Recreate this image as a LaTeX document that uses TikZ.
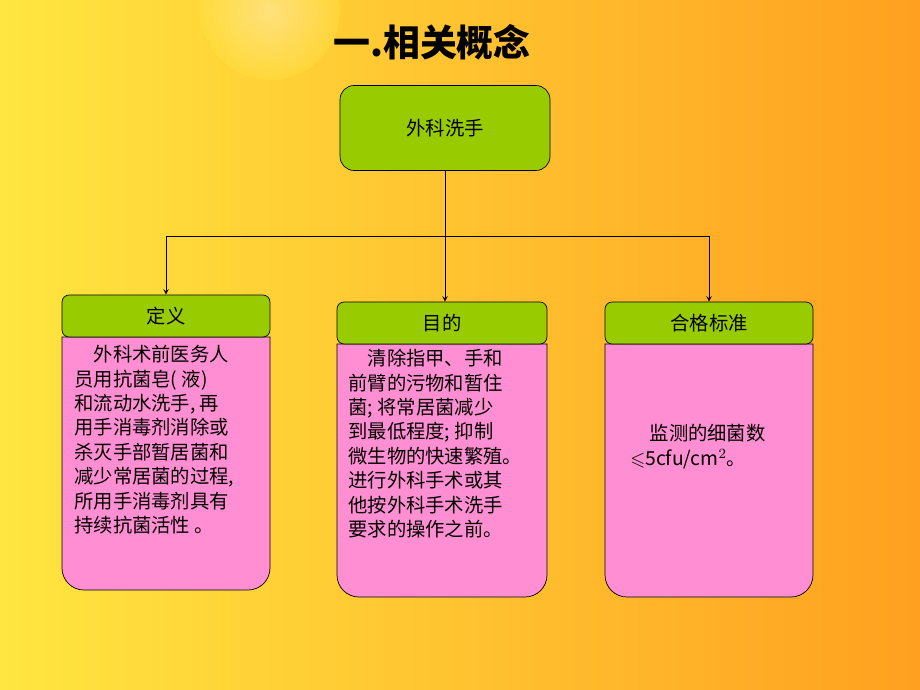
\documentclass[tikz,border=0pt]{standalone}
\usepackage{amssymb}
\usepackage{fontspec}
\newfontfamily\cjk{Noto Sans CJK SC}
\usetikzlibrary{positioning}
\definecolor{boxgreen}{HTML}{99CC00}
\definecolor{boxpink}{HTML}{FF8FD2}
\definecolor{bgyellow}{HTML}{FFE640}
\definecolor{bgorange}{HTML}{FFA020}
\tikzset{
  head/.style={draw=black,fill=boxgreen,rounded corners=4pt,minimum height=0.84cm,font=\cjk\fontsize{11}{13}\selectfont},
  body/.style={draw=black,fill=boxpink},
  bodytext/.style={align=left,anchor=north west,inner sep=0pt,font=\cjk\fontsize{11}{13.9}\selectfont},
  >=stealth
}
\newcommand{\pinkbox}[4]{% x1, x2, ytop, ybottom
  \draw[body] (#1,#3) -- (#1,#4-22) to[out=-90,in=180] (#1+22,#4) -- (#2-22,#4) to[out=0,in=-90] (#2,#4-22) -- (#2,#3) -- cycle;}
\begin{document}
\begin{tikzpicture}[x=0.02cm,y=-0.02cm]
\useasboundingbox (0,0) rectangle (920,690);
\shade[left color=bgyellow,right color=bgorange] (0,0) rectangle (920,690);
\shade[inner color=white,outer color=bgyellow,opacity=0.35] (270,10) circle (70);

\node[font=\cjk\bfseries\fontsize{21}{24}\selectfont] (title) at (432,42) {一.相关概念};
\node[head,minimum width=4.2cm,minimum height=1.7cm,rounded corners=8pt] (top) at (445,128) {外科洗手};

% three columns
\pinkbox{62}{270}{337}{590}
\pinkbox{337}{547}{344}{597}
\pinkbox{605}{813}{344}{597}
\node[head,minimum width=4.16cm] (def) at (166,316) {定义};
\node[head,minimum width=4.2cm] (aim) at (442,323) {目的};
\node[head,minimum width=4.16cm] (std) at (709,323) {合格标准};

\node[bodytext] (deft) at (74,345) {\quad 外科术前医务人\\员用抗菌皂( 液)\\和流动水洗手, 再\\用手消毒剂消除或\\杀灭手部暂居菌和\\减少常居菌的过程,\\所用手消毒剂具有\\持续抗菌活性\ 。};
\node[bodytext] (aimt) at (348,349) {\quad 清除指甲、手和\\前臂的污物和暂住\\菌; 将常居菌减少\\到最低程度; 抑制\\微生物的快速繁殖。\\进行外科手术或其\\他按外科手术洗手\\要求的操作之前。};
\node[bodytext] (stdt) at (630,424) {\quad 监测的细菌数\\$\leqslant$5cfu/cm$^2$。};

\coordinate (fork) at (top.south |- 0,236);
\draw (top.south) -- (fork);
\draw[->] (fork) -- (fork -| def.north) -- (def.north);
\draw[->] (fork) -- (fork |- aim.north);
\draw[->] (fork) -- (fork -| std.north) -- (std.north);
\end{tikzpicture}
\end{document}
